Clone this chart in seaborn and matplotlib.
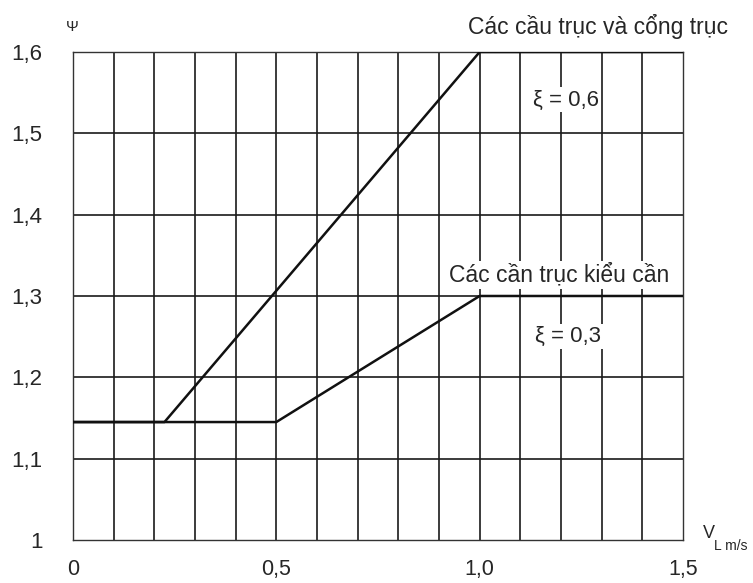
import matplotlib
matplotlib.use("Agg")
import matplotlib.pyplot as plt
import seaborn as sns
import pandas as pd
import numpy as np

sns.set_style("white")
plt.rcParams['font.family'] = ['Liberation Sans', 'DejaVu Sans']

# data
x_upper = [0.0, 0.225, 1.0, 1.5]
y_upper = [1.145, 1.145, 1.6, 1.6]
x_lower = [0.0, 0.5, 1.0, 1.5]
y_lower = [1.145, 1.145, 1.3, 1.3]

x_ticks = [0, 0.5, 1.0, 1.5]
x_ticklabels = ["0", "0,5", "1,0", "1,5"]
y_ticks = [1.0, 1.1, 1.2, 1.3, 1.4, 1.5, 1.6]
y_ticklabels = ["1", "1,1", "1,2", "1,3", "1,4", "1,5", "1,6"]

df_up = pd.DataFrame({"v": x_upper, "psi": y_upper})
df_lo = pd.DataFrame({"v": x_lower, "psi": y_lower})

fig = plt.figure(figsize=(7.53, 5.83), dpi=100)
ax = fig.add_axes([0.0969, 0.0738, 0.8101, 0.8370])

# grid every 0.1
for gx in np.arange(0.1, 1.5, 0.1):
    ax.axvline(gx, color="#1a1a1a", lw=1.2, zorder=1)
for gy in y_ticks[1:-1]:
    ax.axhline(gy, color="#1a1a1a", lw=1.2, zorder=1)

sns.lineplot(data=df_up, x="v", y="psi", ax=ax, color="#111111", lw=1.8,
             sort=False, zorder=3)
sns.lineplot(data=df_lo, x="v", y="psi", ax=ax, color="#111111", lw=1.8,
             sort=False, zorder=3)

ax.set_xlim(0, 1.5)
ax.set_ylim(1.0, 1.6)
ax.set_xticks(x_ticks)
ax.set_xticklabels(x_ticklabels, fontsize=15.5)
ax.set_yticks(y_ticks)
ax.set_yticklabels(y_ticklabels, fontsize=16)
ax.tick_params(axis="x", length=0, pad=14)
ax.tick_params(axis="y", length=0, pad=22)
ax.set_xlabel("")
ax.set_ylabel("")
for s in ax.spines.values():
    s.set_color("#333333")
    s.set_linewidth(1.0)

box = dict(facecolor="white", edgecolor="none", pad=1.5)
ax.text(1.291, 1.631, "Các cầu trục và cổng trục", fontsize=16.5, ha="center",
        va="center", clip_on=False)
ax.text(1.212, 1.541, "ξ = 0,6", fontsize=16, ha="center", va="center",
        bbox=box, zorder=5)
ax.text(1.195, 1.326, "Các cần trục kiểu cần", fontsize=16.5, ha="center",
        va="center", bbox=box, zorder=5)
ax.text(1.217, 1.25, "ξ = 0,3", fontsize=16, ha="center", va="center",
        bbox=box, zorder=5)

# axis names
fig.text(72 / 753, 1 - 27 / 583, "Ψ", fontsize=11, ha="center", va="center")
fig.text(709 / 753, 1 - 534 / 583, "V", fontsize=13, ha="center", va="center")
fig.text(714 / 753, 1 - 546 / 583, "L m/s", fontsize=10, ha="left", va="center")

fig.savefig("out.png", dpi=100)
